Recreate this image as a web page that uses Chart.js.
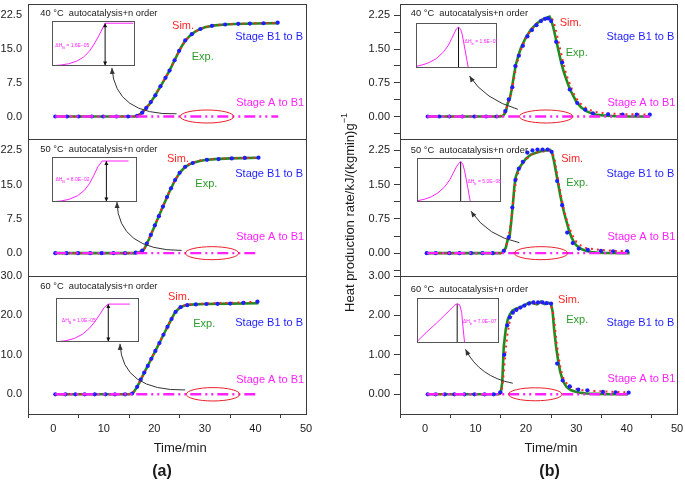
<!DOCTYPE html>
<html><head><meta charset="utf-8">
<script src="https://cdn.jsdelivr.net/npm/chart.js@4.4.1/dist/chart.umd.min.js"></script>
<style>
html,body{margin:0;padding:0;background:#fff;}
#wrap{position:relative;width:685px;height:480px;overflow:hidden;background:#fff;}
canvas{position:absolute;}
</style></head><body><div id="wrap"></div>
<script>
// ---------- shared axis ticks ----------
const xTicks = [-5, 0, 5, 10, 15, 20, 25, 30, 35, 40, 45, 50];
const xLabels = [0, 10, 20, 30, 40, 50];
const yMajorA = [0, 7.5, 15, 22.5];
const yMajorA60 = [0, 10, 20, 30];
const yMajorB = [0, 0.75, 1.5, 2.25];
const yMinorB = [-0.375, 0.375, 1.125, 1.875];
const yMajorB60 = [0, 1, 2, 3];
const yMinorB60 = [0.5, 1.5, 2.5];

// ---------- (a) 40 °C ----------
const a40_time = [0.4, 16.0, 16.5, 17.0, 17.5, 18.0, 19.0, 20.0, 21.0, 22.0, 23.0, 24.0, 25.0, 26.0, 27.0, 28.0, 29.0, 30.0, 32.0, 34.0, 36.0, 40.0, 44.5];
const a40_exp  = [0, 0, 0.1, 0.4, 0.8, 1.4, 2.7, 4.4, 6.3, 8.2, 10.2, 12.5, 14.8, 16.7, 17.9, 18.8, 19.4, 19.85, 20.25, 20.45, 20.55, 20.65, 20.75];
const a40_sim  = [0, 0, 0.1, 0.4, 0.8, 1.4, 2.7, 4.4, 6.3, 8.3, 10.3, 12.5, 14.7, 16.6, 17.9, 18.8, 19.4, 19.85, 20.3, 20.5, 20.6, 20.7, 20.8];
const a40_b1b_time = [0.4, 2.7, 5.0, 7.6, 9.9, 12.5, 14.8, 16.6, 17.6, 18.4, 19.3, 20.2, 21.2, 22.2, 23.0, 24.0, 24.9, 26.1, 27.4, 29.1, 31.4, 34.0, 36.6, 38.9, 41.6, 44.4];
const a40_b1b = [0, 0, 0, 0, 0, 0, 0, 0.15, 0.85, 1.9, 3.2, 4.7, 6.7, 8.6, 10.2, 12.5, 14.6, 16.9, 18.3, 19.45, 20.15, 20.45, 20.6, 20.65, 20.72, 20.85];
const a40_ab1_time = [0.4, 44.5];
const a40_ab1 = [0, 0];

// ---------- (a) 50 °C ----------
const a50_time = [0.4, 16.0, 16.5, 17.0, 17.5, 18.0, 19.0, 20.0, 21.0, 22.0, 23.0, 24.0, 25.0, 26.0, 27.0, 28.0, 29.0, 30.0, 32.0, 35.0, 40.6];
const a50_exp  = [0, 0, 0.05, 0.2, 0.4, 0.9, 3.2, 5.8, 8.4, 11.0, 13.5, 15.8, 17.6, 18.8, 19.5, 19.9, 20.2, 20.4, 20.6, 20.75, 20.9];
const a50_sim  = [0, 0, 0.05, 0.2, 0.45, 1.0, 3.3, 5.9, 8.5, 11.1, 13.6, 15.8, 17.6, 18.9, 19.6, 20.0, 20.3, 20.5, 20.6, 20.8, 20.9];
const a50_b1b_time = [0.4, 2.6, 4.9, 7.3, 9.6, 11.9, 14.2, 16.3, 17.6, 18.5, 19.3, 20.1, 20.9, 21.7, 22.5, 23.3, 24.1, 25.0, 26.1, 27.6, 30.4, 32.7, 35.3, 37.9, 40.6];
const a50_b1b = [0, 0, 0, 0, 0, 0, 0, 0.1, 0.55, 2.1, 4.0, 6.1, 8.1, 10.2, 12.3, 14.2, 16.0, 17.6, 18.9, 19.75, 20.45, 20.6, 20.75, 20.85, 20.9];
const a50_ab1_time = [0.4, 40.6];
const a50_ab1 = [0, 0];

// ---------- (a) 60 °C ----------
const a60_time = [0.4, 15.0, 15.5, 16.0, 16.5, 17.0, 18.0, 19.0, 20.0, 21.0, 22.0, 23.0, 24.0, 25.0, 26.0, 27.0, 28.0, 30.0, 35.0, 40.6];
const a60_exp  = [0, 0, 0.1, 0.7, 1.7, 2.9, 5.5, 8.0, 10.5, 13.0, 15.6, 18.1, 20.6, 22.0, 22.5, 22.7, 22.8, 22.9, 23.0, 23.1];
const a60_sim  = [0, 0, 0.1, 0.7, 1.7, 2.9, 5.5, 8.0, 10.6, 13.1, 15.7, 18.2, 20.6, 22.0, 22.6, 22.8, 22.9, 23.0, 23.2, 23.5];
const a60_b1b_time = [0.4, 2.4, 4.4, 6.2, 8.2, 10.3, 12.2, 14.2, 15.6, 16.6, 17.3, 18.0, 18.7, 19.4, 20.2, 21.0, 21.8, 22.6, 23.4, 24.2, 25.2, 26.5, 28.2, 30.3, 32.5, 35.0, 37.6, 40.4];
const a60_b1b = [0, 0, 0, 0, 0, 0, 0, 0, 0.2, 1.9, 3.7, 5.5, 7.2, 9.0, 11.0, 13.0, 15.1, 17.1, 19.1, 20.9, 22.1, 22.6, 22.8, 22.9, 22.95, 23.0, 23.2, 23.5];
const a60_ab1_time = [0.4, 40.6];
const a60_ab1 = [0, 0];

// ---------- (b) 40 °C ----------
const b40_time = [0.4, 14.0, 15.0, 15.5, 16.0, 16.4, 16.8, 17.2, 17.6, 18.0, 18.5, 19.0, 20.0, 21.0, 22.0, 23.0, 24.0, 24.7, 25.1, 25.5, 26.0, 26.5, 27.0, 27.5, 28.0, 28.5, 29.0, 30.0, 31.0, 32.0, 33.0, 34.0, 36.0, 38.0, 41.0, 44.6];
const b40_exp  = [0, 0, 0, 0.02, 0.1, 0.3, 0.4, 0.62, 0.9, 1.15, 1.35, 1.52, 1.76, 1.93, 2.05, 2.14, 2.19, 2.22, 2.12, 1.95, 1.7, 1.45, 1.2, 1.0, 0.83, 0.68, 0.55, 0.33, 0.2, 0.12, 0.07, 0.04, 0.015, 0.005, 0, 0];
const b40_sim_time = [0.4, 14.5, 15.5, 16.2, 16.6, 17.0, 17.5, 18.0, 18.5, 19.0, 20.0, 21.0, 22.0, 23.0, 24.0, 24.8, 25.3, 25.8, 26.3, 26.8, 27.3, 27.8, 28.3, 28.8, 29.5, 30.5, 31.5, 32.5, 34.0, 36.0, 38.0, 40.0, 42.0, 44.6];
const b40_sim  = [0, 0, 0.03, 0.2, 0.35, 0.5, 0.75, 1.05, 1.3, 1.48, 1.75, 1.92, 2.05, 2.14, 2.18, 2.2, 2.15, 2.0, 1.75, 1.5, 1.25, 1.02, 0.85, 0.7, 0.5, 0.32, 0.22, 0.15, 0.1, 0.07, 0.06, 0.05, 0.05, 0.04];
const b40_b1b_time = [0.5, 2.8, 4.8, 7.4, 9.8, 12.1, 14.2, 15.9, 16.6, 17.3, 17.9, 18.6, 19.4, 20.3, 21.2, 22.1, 23.0, 23.8, 24.4, 25.0, 26.0, 27.2, 28.7, 30.2, 31.8, 33.3, 36.3, 39.2, 42.0, 44.6];
const b40_b1b  = [0, 0, 0, 0, 0, 0, 0, 0.12, 0.38, 0.65, 1.12, 1.35, 1.57, 1.78, 1.92, 2.03, 2.12, 2.17, 2.18, 2.12, 1.66, 1.2, 0.6, 0.3, 0.15, 0.07, 0.05, 0.04, 0.04, 0.04];
const b40_ab1_time = [0.4, 44.6];
const b40_ab1 = [0, 0];

// ---------- (b) 50 °C ----------
const b50_time = [0.4, 15.0, 15.5, 16.0, 16.4, 16.8, 17.1, 17.4, 17.7, 18.0, 18.5, 19.0, 20.0, 21.0, 22.0, 23.0, 24.0, 24.8, 25.2, 25.6, 26.0, 26.4, 26.8, 27.2, 27.6, 28.0, 28.5, 29.0, 29.5, 30.0, 31.0, 32.0, 33.0, 34.0, 36.0, 40.6];
const b50_exp  = [0, 0, 0.02, 0.12, 0.3, 0.4, 0.7, 1.05, 1.45, 1.68, 1.83, 1.92, 2.07, 2.16, 2.2, 2.23, 2.25, 2.26, 2.2, 2.0, 1.76, 1.52, 1.28, 1.07, 0.88, 0.72, 0.52, 0.36, 0.25, 0.17, 0.09, 0.05, 0.025, 0.012, 0.003, 0];
const b50_sim_time = [0.4, 15.0, 15.8, 16.3, 16.8, 17.2, 17.6, 18.0, 18.5, 19.0, 20.0, 21.0, 22.0, 23.0, 24.0, 24.8, 25.3, 25.7, 26.1, 26.5, 26.9, 27.3, 27.7, 28.1, 28.6, 29.2, 30.0, 31.0, 32.0, 34.0, 36.0, 38.0, 40.6];
const b50_sim  = [0, 0, 0.05, 0.25, 0.5, 0.85, 1.25, 1.55, 1.78, 1.9, 2.05, 2.15, 2.2, 2.22, 2.24, 2.24, 2.2, 2.05, 1.8, 1.55, 1.3, 1.08, 0.9, 0.74, 0.56, 0.4, 0.25, 0.16, 0.11, 0.08, 0.06, 0.05, 0.04];
const b50_b1b_time = [0.3, 2.1, 4.8, 6.8, 9.1, 11.4, 13.4, 15.6, 16.6, 17.3, 17.9, 18.6, 19.4, 20.3, 21.3, 22.3, 23.3, 24.3, 25.1, 26.2, 27.2, 28.2, 29.3, 30.5, 32.3, 34.9, 37.3, 40.1];
const b50_b1b  = [0, 0, 0, 0, 0, 0, 0, 0.05, 0.35, 1.0, 1.6, 1.85, 2.0, 2.2, 2.25, 2.27, 2.27, 2.27, 2.22, 1.58, 1.05, 0.45, 0.22, 0.1, 0.07, 0.05, 0.04, 0.04];
const b50_ab1_time = [0.4, 40.6];
const b50_ab1 = [0, 0];

// ---------- (b) 60 °C ----------
const b60_time = [0.4, 14.5, 15.0, 15.3, 15.6, 16.0, 16.4, 16.8, 17.3, 18.0, 19.0, 20.0, 20.8, 21.5, 22.2, 23.0, 23.7, 24.5, 25.0, 25.3, 25.6, 26.0, 26.4, 26.8, 27.2, 27.6, 28.0, 28.5, 29.0, 30.0, 31.0, 32.0, 34.0, 37.0, 40.3];
const b60_exp  = [0, 0, 0.03, 0.3, 1.2, 1.65, 1.9, 2.02, 2.12, 2.17, 2.21, 2.28, 2.33, 2.31, 2.28, 2.35, 2.29, 2.32, 2.28, 2.1, 1.65, 1.2, 0.85, 0.58, 0.4, 0.28, 0.2, 0.14, 0.1, 0.06, 0.035, 0.02, 0.01, 0, 0];
const b60_sim_time = [0.4, 14.8, 15.2, 15.5, 15.9, 16.3, 16.8, 17.3, 18.0, 19.0, 20.0, 21.0, 22.0, 23.0, 24.0, 24.8, 25.3, 25.7, 26.1, 26.5, 26.9, 27.3, 27.8, 28.5, 29.5, 30.5, 32.0, 34.0, 36.0, 38.0, 40.3];
const b60_sim  = [0, 0, 0.1, 0.4, 1.0, 1.5, 1.85, 2.05, 2.15, 2.2, 2.27, 2.31, 2.3, 2.32, 2.3, 2.28, 2.15, 1.8, 1.3, 0.95, 0.65, 0.45, 0.32, 0.22, 0.15, 0.12, 0.09, 0.08, 0.07, 0.06, 0.05];
const b60_b1b_time = [0.5, 2.1, 3.9, 5.8, 7.8, 9.8, 11.8, 13.6, 14.9, 15.7, 16.3, 16.8, 17.4, 18.1, 18.9, 19.7, 20.6, 21.5, 22.4, 23.3, 24.1, 25.0, 26.2, 27.3, 28.7, 30.4, 32.2, 35.3, 37.8, 40.4];
const b60_b1b  = [0, 0, 0, 0, 0, 0, 0, 0, 0.05, 1.0, 1.75, 1.95, 2.07, 2.14, 2.2, 2.25, 2.3, 2.33, 2.33, 2.33, 2.31, 2.3, 0.78, 0.35, 0.2, 0.12, 0.1, 0.06, 0.05, 0.04];
const b60_ab1_time = [0.4, 40.3];
const b60_ab1 = [0, 0];

// ---------- inset curves (normalised to inset box) ----------
const insA40_x = [0.03, 0.1, 0.2, 0.3, 0.38, 0.45, 0.5, 0.55, 0.6, 0.64, 0.7, 0.98];
const insA40_y = [0.0, 0.01, 0.04, 0.1, 0.19, 0.32, 0.46, 0.62, 0.8, 0.95, 0.95, 0.95];
const insA40_mark = [0.64, 0.95];
const insA50_x = [0.03, 0.1, 0.2, 0.3, 0.38, 0.44, 0.49, 0.54, 0.59, 0.64, 0.9];
const insA50_y = [0.0, 0.01, 0.05, 0.13, 0.25, 0.4, 0.58, 0.78, 0.91, 0.91, 0.91];
const insA50_mark = [0.64, 0.91];
const insA60_x = [0.03, 0.12, 0.22, 0.32, 0.4, 0.47, 0.53, 0.58, 0.63, 0.89];
const insA60_y = [0.0, 0.02, 0.07, 0.17, 0.3, 0.46, 0.63, 0.78, 0.86, 0.86];
const insA60_mark = [0.63, 0.86];
const insB40_x = [0.01, 0.1, 0.17, 0.25, 0.34, 0.4, 0.44, 0.48, 0.5, 0.525, 0.55, 0.57, 0.59, 0.61, 0.63, 0.645];
const insB40_y = [0.03, 0.07, 0.12, 0.2, 0.35, 0.5, 0.65, 0.8, 0.87, 0.91, 0.86, 0.75, 0.55, 0.35, 0.15, 0.0];
const insB40_mark = [0.525, 0.91];
const insB50_x = [0.01, 0.1, 0.17, 0.25, 0.33, 0.39, 0.43, 0.47, 0.5, 0.52, 0.545, 0.565, 0.585, 0.605, 0.62, 0.635];
const insB50_y = [0.02, 0.06, 0.11, 0.2, 0.34, 0.5, 0.65, 0.8, 0.88, 0.92, 0.86, 0.72, 0.52, 0.32, 0.15, 0.0];
const insB50_mark = [0.52, 0.92];
const insB60_x = [0.01, 0.12, 0.24, 0.34, 0.4, 0.46, 0.49, 0.52, 0.545, 0.56, 0.58];
const insB60_y = [0.04, 0.24, 0.44, 0.62, 0.73, 0.84, 0.87, 0.85, 0.67, 0.37, 0.0];
const insB60_mark = [0.49, 0.87];

// ---------- styling ----------
const FONT = "'Liberation Sans', Arial, Helvetica, sans-serif";
Chart.defaults.font.family = FONT;
Chart.defaults.color = '#1a1a1a';
Chart.defaults.animation = false;
const C = { exp:'#1f8c1f', expText:'#2a9a2a', sim:'#ff2626', b1b:'#1e1eff', ab1:'#ff22ff',
            frame:'#3c3c3c', ellipse:'#e8202a', arrow:'#333333', text:'#1a1a1a' };

const wrap = document.getElementById('wrap');
function makeCanvas(left, top, w, h) {
  const c = document.createElement('canvas');
  c.width = w; c.height = h;
  c.style.left = left + 'px'; c.style.top = top + 'px';
  c.style.width = w + 'px'; c.style.height = h + 'px';
  wrap.appendChild(c);
  return c;
}
function pts(xs, ys) { return xs.map((x, i) => ({ x: x, y: ys[i] })); }

function annotPlugin(a) {
  return { id: 'annot', afterDraw(chart) {
    const ctx = chart.ctx, ca = chart.chartArea, xs = chart.scales.x, ys = chart.scales.y;
    const px = t => xs.getPixelForValue(t), py = v => ys.getPixelForValue(v);
    ctx.save();
    ctx.strokeStyle = C.frame; ctx.lineWidth = 1;
    ctx.strokeRect(Math.round(ca.left) + 0.5, Math.round(ca.top) + 0.5, Math.round(ca.width), Math.round(ca.height));
    // red ellipse
    ctx.beginPath(); ctx.strokeStyle = C.ellipse; ctx.lineWidth = 1;
    ctx.ellipse(px(a.ell[0]), py(a.ell[1]), a.ell[2], a.ell[3], 0, 0, Math.PI * 2); ctx.stroke();
    // curved arrow
    const x0 = px(a.arr[0]), y0 = py(a.arr[1]), cx = px(a.arr[2]), cy = py(a.arr[3]), x1 = px(a.arr[4]), y1 = py(a.arr[5]);
    ctx.beginPath(); ctx.strokeStyle = C.arrow; ctx.lineWidth = 1;
    ctx.moveTo(x0, y0); ctx.quadraticCurveTo(cx, cy, x1, y1); ctx.stroke();
    const ang = Math.atan2(y1 - cy, x1 - cx);
    ctx.beginPath(); ctx.fillStyle = C.arrow;
    ctx.moveTo(x1, y1);
    ctx.lineTo(x1 - 6 * Math.cos(ang) + 2.5 * Math.sin(ang), y1 - 6 * Math.sin(ang) - 2.5 * Math.cos(ang));
    ctx.lineTo(x1 - 6 * Math.cos(ang) - 2.5 * Math.sin(ang), y1 - 6 * Math.sin(ang) + 2.5 * Math.cos(ang));
    ctx.closePath(); ctx.fill();
    // texts
    ctx.textBaseline = 'middle'; ctx.textAlign = 'left';
    ctx.font = '9.3px ' + FONT; ctx.fillStyle = C.text;
    ctx.fillText(a.title[2], px(a.title[0]), py(a.title[1]));
    ctx.font = '11px ' + FONT;
    a.labels.forEach(l => { ctx.fillStyle = l[3]; ctx.fillText(l[2], px(l[0]), py(l[1])); });
    if (a.xtitle) {
      ctx.textAlign = 'center'; ctx.fillStyle = C.text;
      ctx.font = '13px ' + FONT;
      ctx.fillText(a.xtitle[1], px(a.xtitle[0]), ca.bottom + 34);
      ctx.font = 'bold 16px ' + FONT;
      ctx.fillText(a.panel[1], px(a.panel[0]), ca.bottom + 58);
    }
    if (a.ytitle) {
      ctx.save();
      ctx.translate(ca.left - 50, py(a.ytitle[0]));
      ctx.rotate(-Math.PI / 2);
      ctx.fillStyle = C.text; ctx.textAlign = 'left'; ctx.textBaseline = 'middle';
      ctx.font = '13px ' + FONT;
      const main = a.ytitle[1];
      const w1 = ctx.measureText(main).width;
      ctx.font = '9px ' + FONT;
      const w2 = ctx.measureText(a.ytitle[2]).width;
      const s = -(w1 + w2) / 2;
      ctx.font = '13px ' + FONT; ctx.fillText(main, s, 0);
      ctx.font = '9px ' + FONT; ctx.fillText(a.ytitle[2], s + w1, -5);
      ctx.restore();
    }
    ctx.restore();
  }};
}

function mainChart(p) {
  const cv = makeCanvas(0, 0, 685, 480);
  const yAll = p.yMajor.concat(p.yMinor).sort((u, v) => u - v);
  new Chart(cv, {
    type: 'line',
    data: { datasets: [
      { data: pts(p.ab1t, p.ab1v), borderColor: C.ab1, borderWidth: 2.4, borderDash: [11, 4, 2, 4, 2, 4], pointRadius: 0, fill: false },
      { data: pts(p.bt, p.bv), showLine: false, pointRadius: 2.1, pointBackgroundColor: C.b1b, pointBorderWidth: 0, borderColor: C.b1b },
      { data: pts(p.st, p.sv), borderColor: C.sim, borderWidth: 2, borderDash: [2, 4], pointRadius: 0, fill: false },
      { data: pts(p.et, p.ev), borderColor: C.exp, borderWidth: 2.6, pointRadius: 0, fill: false }
    ]},
    options: {
      responsive: false, animation: false, events: [],
      layout: { padding: p.pad },
      plugins: { legend: { display: false }, tooltip: { enabled: false } },
      scales: {
        x: { type: 'linear', min: -5, max: 50, display: p.showX,
             afterFit: s => { s.height = p.showX ? 20 : 0; s.paddingLeft = 0; s.paddingRight = 0; s.paddingTop = 0; s.paddingBottom = 0; },
             afterBuildTicks: s => { s.ticks = xTicks.map(v => ({ value: v })); },
             border: { display: false },
             grid: { drawOnChartArea: false, drawTicks: true, tickLength: 4,
                     tickColor: c => (c.tick && Math.abs(c.tick.value % 10) > 1e-9) ? C.frame : 'rgba(0,0,0,0)' },
             ticks: { padding: 4, maxRotation: 0, autoSkip: false, font: { size: 11 }, color: C.text,
                      callback: v => xLabels.includes(v) ? String(v) : '' } },
        y: { type: 'linear', min: p.yMin, max: p.yMax,
             afterFit: s => { s.width = p.yW; s.paddingLeft = 0; s.paddingRight = 0; s.paddingTop = 0; s.paddingBottom = 0; },
             afterBuildTicks: s => { s.ticks = yAll.map(v => ({ value: v })); },
             border: { display: false },
             grid: { drawOnChartArea: false, drawTicks: p.yTickMarks, tickLength: 6, tickColor: C.frame },
             ticks: { padding: p.yTickMarks ? 4 : 6, autoSkip: false, font: { size: 11 }, color: C.text,
                      callback: v => p.yMajor.includes(v) ? v.toFixed(p.yDec) : '' } }
      }
    },
    plugins: [annotPlugin(p.annot)]
  });
}

function insetPlugin(q) {
  return { id: 'inset', afterDraw(chart) {
    const ctx = chart.ctx, ca = chart.chartArea, xs = chart.scales.x, ys = chart.scales.y;
    ctx.save();
    ctx.strokeStyle = '#555'; ctx.lineWidth = 1;
    ctx.strokeRect(ca.left + 0.5, ca.top + 0.5, ca.width - 1, ca.height - 1);
    if (q.arrows) {
      const mx = xs.getPixelForValue(q.mark[0]);
      const yt = ys.getPixelForValue(q.mark[1]), yb = ys.getPixelForValue(0);
      ctx.fillStyle = '#111';
      ctx.beginPath(); ctx.moveTo(mx, yt); ctx.lineTo(mx - 2, yt + 4); ctx.lineTo(mx + 2, yt + 4); ctx.closePath(); ctx.fill();
      ctx.beginPath(); ctx.moveTo(mx, yb); ctx.lineTo(mx - 2, yb - 4); ctx.lineTo(mx + 2, yb - 4); ctx.closePath(); ctx.fill();
    }
    const tx = xs.getPixelForValue(q.txt[0]), ty = ys.getPixelForValue(q.txt[1]);
    ctx.fillStyle = C.ab1; ctx.textBaseline = 'middle'; ctx.textAlign = 'left';
    ctx.font = '5px ' + FONT;
    ctx.fillText('ΔH', tx, ty);
    let w = ctx.measureText('ΔH').width;
    ctx.font = '4px ' + FONT; ctx.fillText(q.sub, tx + w, ty + 2.5);
    w += ctx.measureText(q.sub).width;
    ctx.font = '5px ' + FONT; ctx.fillText(' = ' + q.val, tx + w, ty);
    ctx.restore();
  }};
}

function insetChart(q) {
  const cv = makeCanvas(q.box[0], q.box[1], q.box[2], q.box[3]);
  new Chart(cv, {
    type: 'line',
    data: { datasets: [
      { data: pts(q.cx, q.cy), borderColor: C.ab1, borderWidth: 1, pointRadius: 0, clip: false, fill: false },
      { data: pts([q.mark[0], q.mark[0]], [0, q.mark[1]]), borderColor: '#111', borderWidth: 1, pointRadius: 0, clip: false, fill: false }
    ]},
    options: {
      responsive: false, animation: false, events: [],
      layout: { padding: 0 },
      plugins: { legend: { display: false }, tooltip: { enabled: false } },
      scales: { x: { type: 'linear', min: 0, max: 1, display: false },
                y: { type: 'linear', min: -0.01, max: 1, display: false } }
    },
    plugins: [insetPlugin(q)]
  });
}

const tA = '°C  autocatalysis+n order';
// ----- (a) column -----
mainChart({ pad: { left: 0, top: 2, right: 379, bottom: 341 }, yW: 28, yMin: -5, yMax: 25, yMajor: yMajorA, yMinor: [], yDec: 1, yTickMarks: false, showX: false,
  et: a40_time, ev: a40_exp, st: a40_time, sv: a40_sim, bt: a40_b1b_time, bv: a40_b1b, ab1t: a40_ab1_time, ab1v: a40_ab1,
  annot: { title: [-2.57, 22.8, '40 ' + tA],
           labels: [[23.5, 20.1, 'Sim.', C.sim], [27.4, 13.3, 'Exp.', C.expText], [36.0, 17.6, 'Stage B1 to B', C.b1b], [36.2, 3.1, 'Stage A to B1', C.ab1]],
           ell: [30.4, 0, 26.7, 6.5], arr: [24.4, 0.6, 12.25, 0.2, 11.6, 10.8] } });
mainChart({ pad: { left: 0, top: 139, right: 379, bottom: 204 }, yW: 28, yMin: -5, yMax: 25, yMajor: yMajorA, yMinor: [], yDec: 1, yTickMarks: false, showX: false,
  et: a50_time, ev: a50_exp, st: a50_time, sv: a50_sim, bt: a50_b1b_time, bv: a50_b1b, ab1t: a50_ab1_time, ab1v: a50_ab1,
  annot: { title: [-2.57, 22.8, '50 ' + tA],
           labels: [[22.5, 20.6, 'Sim.', C.sim], [28.1, 15.2, 'Exp.', C.expText], [36.0, 17.4, 'Stage B1 to B', C.b1b], [36.2, 3.5, 'Stage A to B1', C.ab1]],
           ell: [31.4, 0, 26.7, 6.5], arr: [25.4, 0.6, 12.85, 0.6, 12.6, 11.2] } });
mainChart({ pad: { left: 0, top: 276, right: 379, bottom: 46 }, yW: 28, yMin: -5, yMax: 30, yMajor: yMajorA60, yMinor: [], yDec: 1, yTickMarks: false, showX: true,
  et: a60_time, ev: a60_exp, st: a60_time, sv: a60_sim, bt: a60_b1b_time, bv: a60_b1b, ab1t: a60_ab1_time, ab1v: a60_ab1,
  annot: { title: [-2.57, 27.3, '60 ' + tA],
           labels: [[22.7, 24.8, 'Sim.', C.sim], [27.7, 17.8, 'Exp.', C.expText], [36.0, 18.0, 'Stage B1 to B', C.b1b], [36.2, 3.55, 'Stage A to B1', C.ab1]],
           ell: [31.6, 0, 26.7, 6.7], arr: [26.1, 1.1, 13.6, 0.8, 13.2, 12.8],
           xtitle: [25.1, 'Time/min'], panel: [21.5, '(a)'] } });
// ----- (b) column -----
mainChart({ pad: { left: 340, top: 3, right: 8, bottom: 341 }, yW: 60, yMin: -0.5, yMax: 2.5, yMajor: yMajorB, yMinor: yMinorB, yDec: 2, yTickMarks: true, showX: false,
  et: b40_time, ev: b40_exp, st: b40_sim_time, sv: b40_sim, bt: b40_b1b_time, bv: b40_b1b, ab1t: b40_ab1_time, ab1v: b40_ab1,
  annot: { title: [-2.85, 2.29, '40 ' + tA],
           labels: [[26.7, 2.08, 'Sim.', C.sim], [27.9, 1.42, 'Exp.', C.expText], [36.0, 1.76, 'Stage B1 to B', C.b1b], [36.2, 0.29, 'Stage A to B1', C.ab1]],
           ell: [24.0, 0, 26.7, 6.5], arr: [18.4, 0.16, 11.75, 0.38, 8.8, 0.9] } });
mainChart({ pad: { left: 340, top: 139, right: 8, bottom: 204 }, yW: 60, yMin: -0.5, yMax: 2.5, yMajor: yMajorB, yMinor: yMinorB, yDec: 2, yTickMarks: true, showX: false,
  et: b50_time, ev: b50_exp, st: b50_sim_time, sv: b50_sim, bt: b50_b1b_time, bv: b50_b1b, ab1t: b50_ab1_time, ab1v: b50_ab1,
  annot: { title: [-2.85, 2.25, '50 ' + tA],
           labels: [[27.0, 2.07, 'Sim.', C.sim], [28.0, 1.54, 'Exp.', C.expText], [36.0, 1.74, 'Stage B1 to B', C.b1b], [36.2, 0.36, 'Stage A to B1', C.ab1]],
           ell: [23.0, 0, 26.7, 6.5], arr: [18.7, 0.23, 12.4, 0.37, 9.1, 0.92],
           ytitle: [0.89, 'Heat production rate/kJ/(kgmin)g', '−1'] } });
mainChart({ pad: { left: 340, top: 276, right: 8, bottom: 46 }, yW: 60, yMin: -0.5, yMax: 3, yMajor: yMajorB60, yMinor: yMinorB60, yDec: 2, yTickMarks: true, showX: true,
  et: b60_time, ev: b60_exp, st: b60_sim_time, sv: b60_sim, bt: b60_b1b_time, bv: b60_b1b, ab1t: b60_ab1_time, ab1v: b60_ab1,
  annot: { title: [-2.85, 2.66, '60 ' + tA],
           labels: [[26.35, 2.4, 'Sim.', C.sim], [28.0, 1.88, 'Exp.', C.expText], [36.0, 1.82, 'Stage B1 to B', C.b1b], [36.2, 0.38, 'Stage A to B1', C.ab1]],
           ell: [21.85, 0, 26.7, 6.5], arr: [17.4, 0.28, 10.8, 0.44, 8.0, 1.14],
           xtitle: [25.0, 'Time/min'], panel: [24.7, '(b)'] } });

// ----- insets -----
insetChart({ box: [52, 21, 83, 45], cx: insA40_x, cy: insA40_y, mark: insA40_mark, arrows: true, txt: [0.04, 0.45], sub: 'B', val: '1.6E−05' });
insetChart({ box: [52, 157, 85, 45], cx: insA50_x, cy: insA50_y, mark: insA50_mark, arrows: true, txt: [0.04, 0.49], sub: 'B', val: '8.0E−02' });
insetChart({ box: [56, 298, 83, 44], cx: insA60_x, cy: insA60_y, mark: insA60_mark, arrows: true, txt: [0.07, 0.48], sub: 'B', val: '1.0E−05' });
insetChart({ box: [416, 23, 81, 45], cx: insB40_x, cy: insB40_y, mark: insB40_mark, arrows: false, txt: [0.6, 0.58], sub: 'b', val: '1.6E−05' });
insetChart({ box: [417, 158, 84, 44], cx: insB50_x, cy: insB50_y, mark: insB50_mark, arrows: false, txt: [0.6, 0.46], sub: 'b', val: '5.0E−08' });
insetChart({ box: [417, 298, 82, 45], cx: insB60_x, cy: insB60_y, mark: insB60_mark, arrows: false, txt: [0.56, 0.47], sub: 'b', val: '7.0E−07' });
</script></body></html>
